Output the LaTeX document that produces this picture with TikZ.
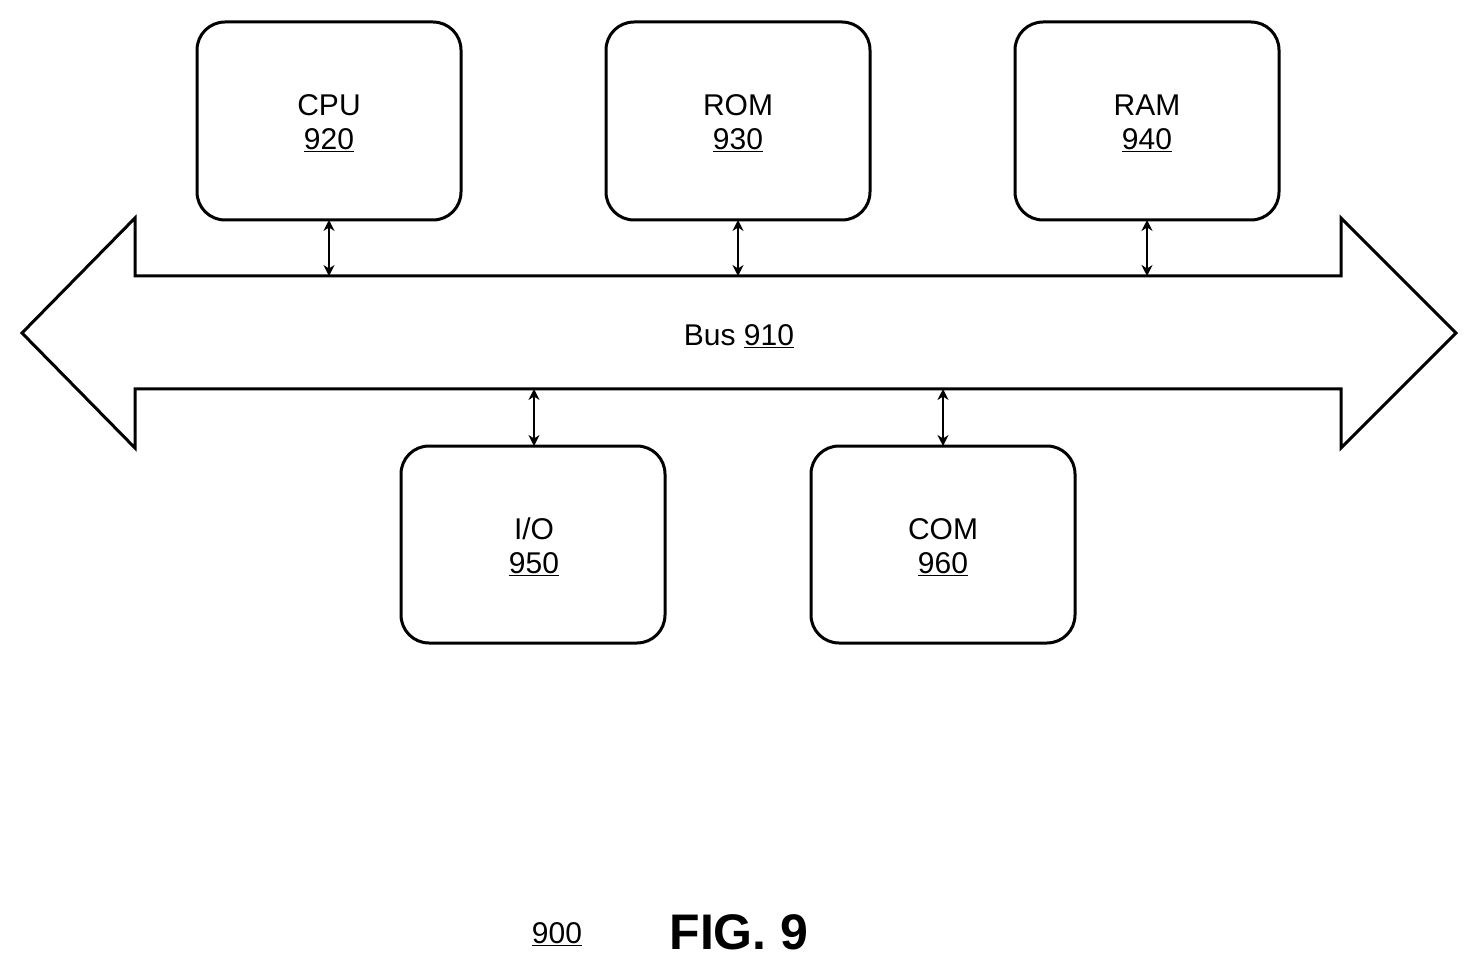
\documentclass[tikz,border=0pt]{standalone}
\usepackage{fontspec}
\setmainfont{Liberation Sans}
\usetikzlibrary{arrows.meta}
\begin{document}
\begin{tikzpicture}[x=1pt,y=-1pt,line width=3pt,
  box/.style={draw,rounded corners=28pt},
  lbl/.style={font=\fontsize{30}{36}\selectfont,align=center},
  link/.style={line width=2.5pt,{Stealth[length=11pt,width=11pt]}-{Stealth[length=11pt,width=11pt]}}]
\useasboundingbox (0,0) rectangle (1478,973);
\draw[box] (197,22) rectangle (461,220) node (cpu) {};
\draw[box] (606,22) rectangle (870,220) node (rom) {};
\draw[box] (1015,22) rectangle (1279,220) node (ram) {};
\draw[box] (401,446) rectangle (665,643) node (io) {};
\draw[box] (811,446) rectangle (1075,643) node (com) {};
\node[lbl] (tcpu) at (329,123) {CPU\\[-2pt]\underline{920}};
\node[lbl] (trom) at (738,123) {ROM\\[-2pt]\underline{930}};
\node[lbl] (tram) at (1147,123) {RAM\\[-2pt]\underline{940}};
\node[lbl] (tio) at (534,547) {I/O\\[-2pt]\underline{950}};
\node[lbl] (tcom) at (943,547) {COM\\[-2pt]\underline{960}};
\draw[line join=miter] (22,333) -- (135,218) -- (135,276) -- (1341,276) -- (1341,218) -- (1456,333) -- (1341,448) -- (1341,389) -- (135,389) -- (135,448) -- cycle;
\node[lbl] (bus) at (739,336) {Bus \underline{910}};
\coordinate (b1) at (329,276); \coordinate (b2) at (738,276); \coordinate (b3) at (1147,276);
\coordinate (b4) at (534,389); \coordinate (b5) at (943,389);
\coordinate (c1) at (329,220); \coordinate (c2) at (738,220); \coordinate (c3) at (1147,220);
\coordinate (c4) at (534,446); \coordinate (c5) at (943,446);
\draw[link] (c1) -- (b1); \draw[link] (c2) -- (b2); \draw[link] (c3) -- (b3);
\draw[link] (b4) -- (c4); \draw[link] (b5) -- (c5);
\node[lbl] (n900) at (557,934) {\underline{900}};
\node[font=\fontsize{50}{60}\selectfont\bfseries] (fig) at (739,932) {FIG. 9};
\end{tikzpicture}
\end{document}
